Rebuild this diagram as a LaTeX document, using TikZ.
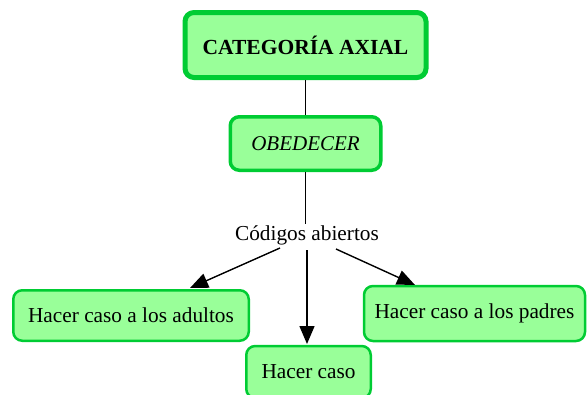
\documentclass[tikz,border=0pt]{standalone}
\usepackage{fontspec}
\setmainfont{Liberation Serif}
\usetikzlibrary{arrows.meta}
\definecolor{boxfill}{HTML}{99FF99}
\definecolor{boxline}{HTML}{00CC33}
\tikzset{
  gbox/.style={draw=boxline, fill=boxfill, rounded corners=9pt, inner sep=0pt, align=center},
  conn/.style={draw=black, line width=1.4pt},
  arr/.style={conn, -{Triangle[length=18pt,width=15pt]}},
  txt/.style={font=\fontsize{21.3}{25}\selectfont},
}
\begin{document}
\begin{tikzpicture}[x=1pt,y=-1pt]
\useasboundingbox (0,0) rectangle (588,394);
\node[gbox, line width=5pt, minimum width=241pt, minimum height=65pt, font=\fontsize{21.5}{25}\selectfont\bfseries] (top) at (305.5,45) {CATEGORÍA AXIAL};
\node[gbox, line width=3.5pt, minimum width=150.5pt, minimum height=53.5pt, font=\fontsize{21}{25}\selectfont\itshape] (obe) at (305.5,143.5) {OBEDECER};
\node[inner sep=1pt, txt] (cod) at (307,235) {Códigos abiertos};
\node[gbox, line width=2.5pt, minimum width=235.5pt, minimum height=50.5pt, txt] (adu) at (131,315.5) {Hacer caso a los adultos};
\node[gbox, line width=2.5pt, minimum width=124.5pt, minimum height=52pt, txt] (hc) at (308.5,372) {Hacer caso};
\node[gbox, line width=2.5pt, minimum width=221pt, minimum height=55pt, txt] (pad) at (474.5,313.5) {Hacer caso a los padres};
\coordinate (a1s) at (280,248);
\coordinate (a1e) at (190,288);
\coordinate (a2s) at (307,250);
\coordinate (a2e) at (307,344);
\coordinate (a3s) at (336,249);
\coordinate (a3e) at (415,285);
\draw[conn] (top.south) -- (obe.north);
\draw[conn] (obe.south) -- (obe.south |- cod.north);
\draw[arr] (a1s) -- (a1e);
\draw[arr] (a2s) -- (a2e);
\draw[arr] (a3s) -- (a3e);
\end{tikzpicture}
\end{document}
